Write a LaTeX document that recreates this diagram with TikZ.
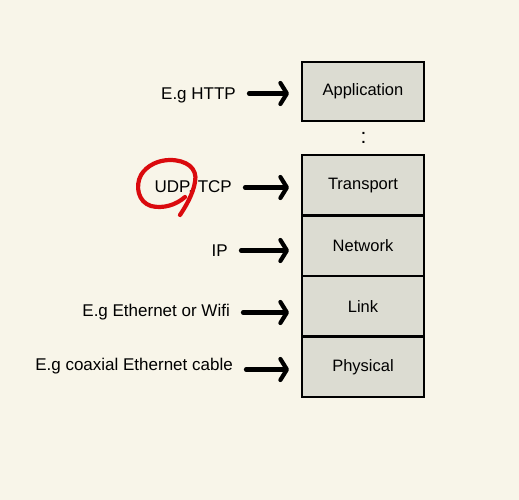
\documentclass[tikz,border=0pt]{standalone}
\usepackage{fontspec}
\setmainfont{Liberation Sans}
\usetikzlibrary{positioning}
\usetikzlibrary{arrows.meta}
\definecolor{paper}{RGB}{248,245,233}
\definecolor{layerfill}{RGB}{220,220,210}
\definecolor{pen}{RGB}{218,10,14}

\tikzset{
    layer/.style={draw, line width=2.4pt, fill=layerfill, minimum width=122pt, minimum height=60.5pt, outer sep=0pt, font=\fontsize{16.5}{19}\selectfont},
    lbl/.style={anchor=east, inner sep=0pt, font=\fontsize{17}{20}\selectfont},
    arr/.style={line width=4.2pt, line cap=round, shorten <=13pt, shorten >=13pt, -{Straight Barb[length=6.5pt, width=21pt, round]}},
}

\begin{document}
\begin{tikzpicture}[x=1pt, y=-1pt]
    \fill[paper] (0,0) rectangle (519,500);
    \useasboundingbox (0,0) rectangle (519,500);

    % the stack
    \node[layer, minimum height=59pt] (app) at (363,91.5) {Application};
    \node[layer] (trans) at (363,185.25) {Transport};
    \node[layer, below=0pt of trans] (net) {Network};
    \node[layer, below=0pt of net] (link) {Link};
    \node[layer, below=0pt of link] (phys) {Physical};
    \node[font=\fontsize{21}{24}\selectfont] (gap) at (363.5,138) {:};

    % what lives in each layer
    \node[lbl] (http) at (236,95.5) {E.g HTTP};
    \node[lbl] (udp) at (232,187.5) {UDP, TCP};
    \node[lbl] (ip) at (228,250.5) {IP};
    \node[lbl] (wifi) at (230,312.5) {E.g Ethernet or Wifi};
    \node[lbl] (cable) at (233,366.5) {E.g coaxial Ethernet cable};

    \draw[arr] ([yshift=2pt]http.east) -- ([yshift=2pt]http.east -| app.west);
    \draw[arr] (udp.east) -- (udp.east -| trans.west);
    \draw[arr] (ip.east) -- (ip.east -| net.west);
    \draw[arr] (wifi.east) -- (wifi.east -| link.west);
    \draw[arr] ([yshift=-3pt]cable.east) -- ([yshift=-3pt]cable.east -| phys.west);

    % red loop round UDP
    \draw[pen, line width=4.2pt, line cap=round, line join=round]
        (185,197) .. controls (176,205) and (163,209) .. (151,206)
        .. controls (138,202) and (135,186) .. (141,175)
        .. controls (147,165) and (159,160) .. (170,160)
        .. controls (186,160) and (198,168) .. (195,182)
        .. controls (193,194) and (186,206) .. (180,215);
\end{tikzpicture}
\end{document}
